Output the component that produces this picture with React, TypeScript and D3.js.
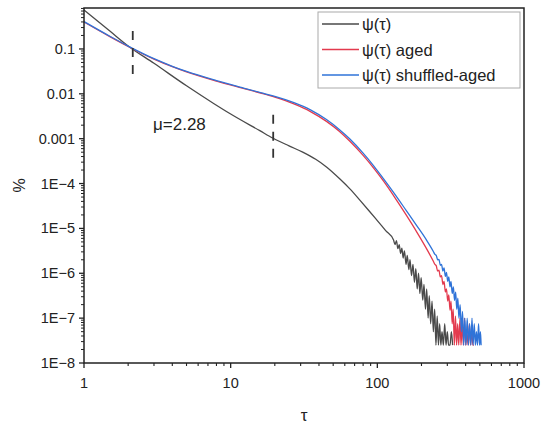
import React from 'react';
import * as d3 from 'd3';

// psi(tau) - original
const blackTau = [1, 1.5, 2, 3, 5, 7.7, 10, 15.8, 19.5, 25, 31, 38, 45, 55.6, 65, 76, 88, 99, 114,
  129, 132, 135, 138, 141, 144, 147, 150, 153, 157, 160, 164, 167, 171, 175, 179, 183, 187, 191, 195,
  199, 204, 208, 213, 217, 222, 226, 231, 236, 241, 246, 251, 256, 261, 266, 271, 276, 282, 288, 294,
  300, 306, 313, 320, 326];
const blackVal = [0.741, 0.251, 0.117, 0.0479, 0.0151, 0.00603, 0.00355, 0.00151, 0.00102, 6.92e-4,
  5.01e-4, 3.47e-4, 2.34e-4, 1.26e-4, 7.59e-5, 4.27e-5, 2.45e-5, 1.55e-5, 8.91e-6,
  5.5e-6, 4.37e-6, 5.37e-6, 3.55e-6, 4.37e-6, 2.75e-6, 3.63e-6, 2.19e-6, 3.16e-6, 1.58e-6, 2.51e-6,
  1.2e-6, 2.0e-6, 8.91e-7, 1.58e-6, 6.31e-7, 1.26e-6, 4.47e-7, 1.0e-6, 3.55e-7, 7.94e-7, 2.51e-7,
  5.62e-7, 1.58e-7, 4.47e-7, 1.0e-7, 3.16e-7, 7.5e-8, 2.4e-7, 5e-8, 1.58e-7, 2.5e-8, 1.12e-7, 2.5e-8,
  7.5e-8, 2.5e-8, 5e-8, 2.5e-8, 7.5e-8, 2.5e-8, 5e-8, 2.5e-8, 2.5e-8, 5e-8, 2.5e-8];

// psi(tau) aged
const redTau = [1, 1.5, 2, 3, 4, 5, 8, 12, 16, 20, 27, 35, 45, 55, 65, 80, 95, 110, 130, 158, 185, 215,
  241, 247, 252, 258, 263, 269, 274, 280, 285, 291, 296, 302, 307, 313, 318, 324, 329, 335, 341, 347,
  353, 359, 366, 372, 379, 386, 393, 400, 408, 416, 424, 432, 440, 448, 455];
const redVal = [0.398, 0.188, 0.1135, 0.0593, 0.0402, 0.0308, 0.0192, 0.01337, 0.01038, 0.0084, 0.00594,
  0.00402, 0.00243, 0.00147, 8.75e-4, 4.24e-4, 2.16e-4, 1.146e-4, 5.2e-5, 1.95e-5, 8.51e-6, 3.68e-6,
  1.85e-6, 1.58e-6, 1.48e-6, 1.12e-6, 1.17e-6, 8.3e-7, 8.9e-7, 5.6e-7, 6.6e-7, 3.8e-7, 4.5e-7,
  2.4e-7, 3.3e-7, 1.5e-7, 2.4e-7, 7.5e-8, 1.58e-7, 2.5e-8, 1.12e-7, 2.5e-8, 7.5e-8, 2.5e-8, 1.0e-7,
  2.5e-8, 7.5e-8, 2.5e-8, 1.0e-7, 2.5e-8, 5e-8, 2.5e-8, 7.5e-8, 2.5e-8, 5.5e-8, 2.5e-8, 2.5e-8];

// psi(tau) shuffled-aged
const blueTau = [1, 1.5, 2, 3, 4, 5, 8, 12, 16, 20, 27, 35, 45, 55, 65, 80, 95, 110, 130, 158, 185, 215,
  241, 247, 252, 258, 263, 269, 274, 280, 285, 291, 296, 302, 307, 313, 318, 324, 330, 336, 342, 348,
  354, 360, 367, 374, 381, 388, 395, 402, 410, 418, 426, 434, 442, 450, 458, 466, 474, 482, 490, 498,
  505, 510];
const blueVal = [0.407, 0.192, 0.116, 0.0607, 0.0411, 0.0315, 0.0197, 0.01368, 0.01062, 0.00879, 0.00637,
  0.0044, 0.00267, 0.00161, 9.82e-4, 4.75e-4, 2.42e-4, 1.285e-4, 6.11e-5, 2.46e-5, 1.175e-5, 5.7e-6,
  3.06e-6, 2.63e-6, 2.51e-6, 2.0e-6, 2.04e-6, 1.51e-6, 1.58e-6, 1.12e-6, 1.32e-6, 8.5e-7, 1.05e-6,
  6.6e-7, 8.3e-7, 5.0e-7, 6.6e-7, 3.55e-7, 5.0e-7, 2.5e-7, 3.8e-7, 1.58e-7, 2.8e-7, 1.0e-7,
  2.0e-7, 5e-8, 1.41e-7, 2.5e-8, 1.0e-7, 2.5e-8, 1.0e-7, 2.5e-8, 7.5e-8, 2.5e-8, 1.0e-7, 2.5e-8,
  7.5e-8, 2.5e-8, 5e-8, 2.5e-8, 7.5e-8, 2.5e-8, 5e-8, 2.5e-8];

const seriesNames = ['\u03c8(\u03c4)', '\u03c8(\u03c4) aged', '\u03c8(\u03c4) shuffled-aged'];
const seriesColors = ['#4a4a4a', '#e33a4e', '#2f73d8'];

const xTicks = [1, 10, 100, 1000];
const xTickLabels = ['1', '10', '100', '1000'];
const yTicks = [0.1, 0.01, 0.001, 1e-4, 1e-5, 1e-6, 1e-7, 1e-8];
const yTickLabels = ['0.1', '0.01', '0.001', '1E\u22124', '1E\u22125', '1E\u22126', '1E\u22127', '1E\u22128'];

// dashed guide marks (tau, low, high) and slope annotation
const guideTau = [2.15, 19.5];
const guideLo = [0.025, 3.4e-4];
const guideHi = [0.25, 3.4e-3];
const note = '\u03bc=2.28';

const W = 542;
const H = 425;
const margin = { top: 8, right: 18, bottom: 62, left: 84 };
const font = '"Liberation Sans", Arial, sans-serif';

export default function App() {
  const x = d3.scaleLog().domain([1, 1000]).range([margin.left, W - margin.right]);
  const y = d3.scaleLog().domain([1e-8, Math.pow(10, -0.087)]).range([H - margin.bottom, margin.top]);
  const line = d3.line<[number, number]>()
    .x(d => x(d[0]))
    .y(d => y(d[1]))
    .curve(d3.curveMonotoneX);

  const series = [
    d3.zip(blackTau, blackVal) as [number, number][],
    d3.zip(redTau, redVal) as [number, number][],
    d3.zip(blueTau, blueVal) as [number, number][],
  ];

  const x0 = margin.left, x1 = W - margin.right, y0 = H - margin.bottom, y1 = margin.top;

  const xMinor: number[] = [];
  for (let e = 0; e < 3; e++) for (let k = 2; k < 10; k++) xMinor.push(k * Math.pow(10, e));
  const yMinor: number[] = [];
  for (let e = -8; e < 0; e++) for (let k = 2; k < 10; k++) {
    const v = k * Math.pow(10, e);
    if (v <= y.domain()[1]) yMinor.push(v);
  }

  const axisColor = '#222';
  const legX = 318, legY = 12;

  return (
    <div style={{ position: 'absolute', left: 0, top: 0 }}>
      <svg width={W} height={H} style={{ display: 'block', background: '#fff' }}>
        <g fontFamily={font}>
          {series.map((s, i) => (
            <path key={i} d={line(s) || ''} fill="none" stroke={seriesColors[i]} strokeWidth={1.3} />
          ))}

          {guideTau.map((t, i) => (
            <line key={i} x1={x(t)} x2={x(t)} y1={y(guideHi[i])} y2={y(guideLo[i])}
              stroke="#333" strokeWidth={1.8} strokeDasharray="9 8" />
          ))}
          <text x={153} y={130} fontSize={17} fill="#222">{note}</text>

          {/* frame */}
          <rect x={x0} y={y1} width={x1 - x0} height={y0 - y1} fill="none" stroke={axisColor} strokeWidth={1.5} />

          {/* x ticks */}
          {xTicks.map((t, i) => (
            <g key={i}>
              <line x1={x(t)} x2={x(t)} y1={y0} y2={y0 + 5} stroke={axisColor} strokeWidth={1.3} />
              <text x={x(t)} y={y0 + 25} textAnchor="middle" fontSize={14.5} fill="#222">{xTickLabels[i]}</text>
            </g>
          ))}
          {xMinor.map((t, i) => (
            <line key={i} x1={x(t)} x2={x(t)} y1={y0} y2={y0 + 3} stroke={axisColor} strokeWidth={1.1} />
          ))}

          {/* y ticks */}
          {yTicks.map((t, i) => (
            <g key={i}>
              <line x1={x0 - 5} x2={x0} y1={y(t)} y2={y(t)} stroke={axisColor} strokeWidth={1.3} />
              <text x={x0 - 9} y={y(t) + 5} textAnchor="end" fontSize={14.5} fill="#222">{yTickLabels[i]}</text>
            </g>
          ))}
          {yMinor.map((t, i) => (
            <line key={i} x1={x0 - 3} x2={x0} y1={y(t)} y2={y(t)} stroke={axisColor} strokeWidth={1} />
          ))}

          <text x={(x0 + x1) / 2} y={421} textAnchor="middle" fontSize={17} fill="#222">{'\u03c4'}</text>
          <text transform={`translate(25, ${(y0 + y1) / 2}) rotate(-90)`} textAnchor="middle" fontSize={16} fill="#222">%</text>

          {/* legend */}
          <rect x={legX} y={legY} width={202} height={76} fill="#fff" stroke="#aaa" strokeWidth={1} />
          {seriesNames.map((n, i) => (
            <g key={i} transform={`translate(${legX + 4}, ${legY + 12 + i * 25.5})`}>
              <line x1={0} x2={37} y1={0} y2={0} stroke={seriesColors[i]} strokeWidth={1.3} />
              <text x={40} y={6} fontSize={16.5} fill="#222">{n}</text>
            </g>
          ))}
        </g>
      </svg>
    </div>
  );
}
